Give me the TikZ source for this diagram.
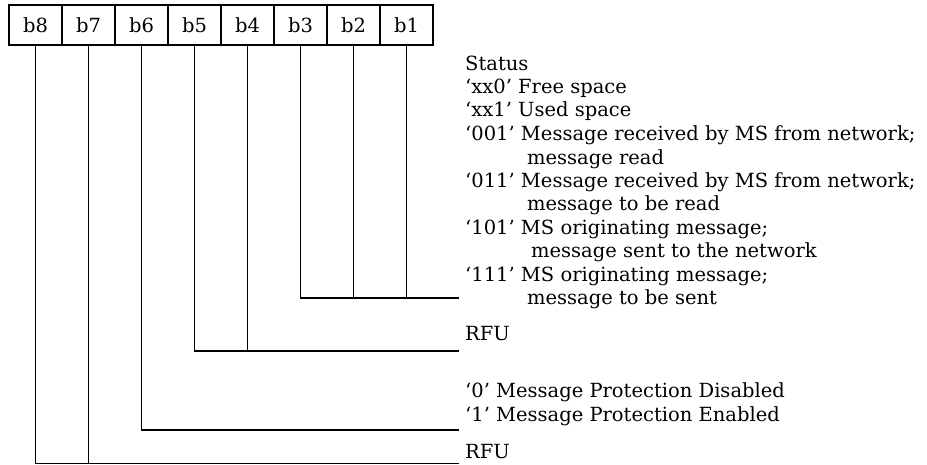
\documentclass[tikz,border=0pt]{standalone}
\usepackage{fontspec}
\setmainfont{DejaVu Serif}
\usetikzlibrary{positioning}

\tikzset{
  bitcell/.style={draw, line width=1.4pt, outer sep=0pt, inner sep=0pt,
    minimum width=53pt, minimum height=40pt, font=\fontsize{19.5}{23.5}\selectfont},
  desc/.style={anchor=base west, align=left, inner sep=0pt,
    font=\fontsize{19.5}{23.5}\selectfont},
  wire/.style={line width=1.4pt}
}

\begin{document}
\begin{tikzpicture}[x=1pt, y=-1pt]
  \useasboundingbox (0,0) rectangle (927,465);
  % octet of bits
  \node[bitcell] (b8) at (35.5,25) {b8};
  \node[bitcell, right=0pt of b8] (b7) {b7};
  \node[bitcell, right=0pt of b7] (b6) {b6};
  \node[bitcell, right=0pt of b6] (b5) {b5};
  \node[bitcell, right=0pt of b5] (b4) {b4};
  \node[bitcell, right=0pt of b4] (b3) {b3};
  \node[bitcell, right=0pt of b3] (b2) {b2};
  \node[bitcell, right=0pt of b2] (b1) {b1};
  % ends of the rules
  \coordinate (status end) at (459,298);
  \coordinate (rfu end) at (459,351);
  \coordinate (prot end) at (459,430);
  \coordinate (rfu2 end) at (459,463.5);
  % b3..b1 -> status
  \draw[wire] (b3.south) |- (status end);
  \draw[wire] (b2.south) -- (b2.south |- status end);
  \draw[wire] (b1.south) -- (b1.south |- status end);
  % b5, b4 -> RFU
  \draw[wire] (b5.south) |- (rfu end);
  \draw[wire] (b4.south) -- (b4.south |- rfu end);
  % b6 -> protection
  \draw[wire] (b6.south) |- (prot end);
  % b8, b7 -> RFU
  \draw[wire] (b8.south) |- (rfu2 end);
  \draw[wire] (b7.south) -- (b7.south |- rfu2 end);
  % descriptions (placed by their last line)
  \node[desc] (status) at (465,305) {Status\\
    ‘xx0’ Free space\\
    ‘xx1’ Used space\\
    ‘001’ Message received by MS from network;\\
    \hspace*{62pt}message read\\
    ‘011’ Message received by MS from network;\\
    \hspace*{62pt}message to be read\\
    ‘101’ MS originating message;\\
    \hspace*{66pt}message sent to the network\\
    ‘111’ MS originating message;\\
    \hspace*{62pt}message to be sent};
  \node[desc] (rfu) at (465,341) {RFU};
  \node[desc] (prot) at (465,421) {‘0’ Message Protection Disabled\\
    ‘1’ Message Protection Enabled};
  \node[desc] (rfu2) at (465,458) {RFU};
\end{tikzpicture}
\end{document}
